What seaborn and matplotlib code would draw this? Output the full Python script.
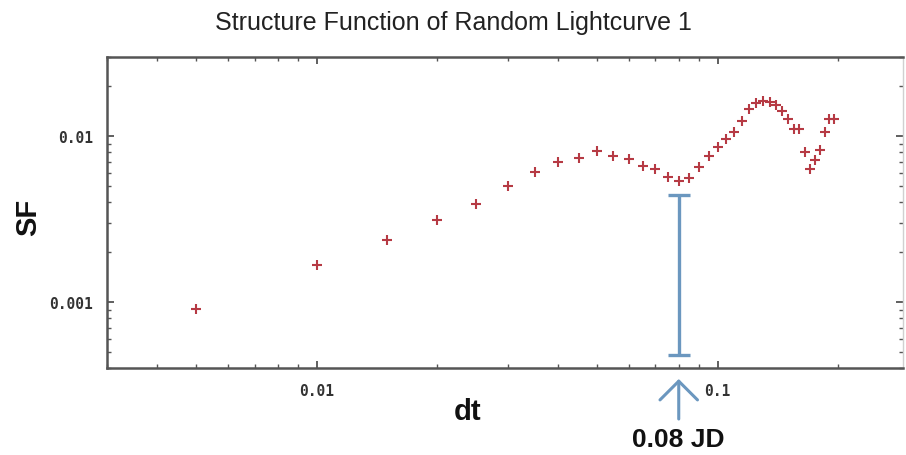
import matplotlib
matplotlib.use("Agg")
import matplotlib.pyplot as plt
import seaborn as sns
import pandas as pd

# ---- data ----
dt = [0.005, 0.010, 0.015, 0.020, 0.025, 0.030, 0.035, 0.040, 0.045, 0.050,
      0.055, 0.060, 0.065, 0.070, 0.075, 0.080, 0.085, 0.090, 0.095, 0.100,
      0.105, 0.110, 0.115, 0.120, 0.125, 0.130, 0.135, 0.140, 0.145, 0.150,
      0.155, 0.160, 0.165, 0.170, 0.175, 0.180, 0.185, 0.190, 0.195]
sf = [0.00091, 0.00167, 0.00238, 0.0031, 0.0039, 0.0050, 0.0061, 0.0070, 0.0074, 0.0081,
      0.0076, 0.0073, 0.0066, 0.0063, 0.0057, 0.0054, 0.0056, 0.0065, 0.0076, 0.0086,
      0.0096, 0.0106, 0.0124, 0.0146, 0.0159, 0.0162, 0.0160, 0.0155, 0.0141, 0.0126,
      0.0110, 0.0110, 0.0080, 0.0063, 0.0072, 0.0083, 0.0106, 0.0127, 0.0127]

bar_x = [0.08]
bar_low = [0.00048]
bar_high = [0.00439]

x_ticks = [0.01, 0.1]
x_tick_labels = ["0.01", "0.1"]
y_ticks = [0.001, 0.01]
y_tick_labels = ["0.001", "0.01"]

title = "Structure Function of Random Lightcurve 1"
x_label = "dt"
y_label = "SF"
note = "0.08 JD"

df = pd.DataFrame({"dt": dt, "SF": sf})

sns.set_theme(style="ticks")
plt.rcParams["font.family"] = ["Liberation Sans", "DejaVu Sans"]

fig = plt.figure(figsize=(9.06, 4.56), dpi=100)
fig.patch.set_facecolor("white")
ax = fig.add_axes([107 / 906, 1 - 369 / 456, 796 / 906, 311 / 456])
ax.set_facecolor("white")

sns.scatterplot(data=df, x="dt", y="SF", marker="+", s=55, color="#b63a44",
                linewidth=1.5, ax=ax, legend=False, zorder=3)

ax.set_xscale("log")
ax.set_yscale("log")
ax.set_xlim(0.003, 0.29)
ax.set_ylim(0.0004, 0.03)

# error bar marker
blue = "#6b97bf"
mid = [(lo * hi) ** 0.5 for lo, hi in zip(bar_low, bar_high)]
yerr = [[m - lo for m, lo in zip(mid, bar_low)], [hi - m for m, hi in zip(mid, bar_high)]]
ax.errorbar(bar_x, mid, yerr=yerr, fmt="none", ecolor=blue, elinewidth=2.4,
            capsize=8, capthick=2.4, zorder=2)

# ticks
ax.set_xticks(x_ticks)
ax.set_xticklabels(x_tick_labels)
ax.set_yticks(y_ticks)
ax.set_yticklabels(y_tick_labels)
tick_font = dict(family="DejaVu Sans Mono", weight="bold", size=10.5)
for lab in ax.get_xticklabels() + ax.get_yticklabels():
    lab.set_fontproperties(matplotlib.font_manager.FontProperties(**tick_font))
    lab.set_color("#333333")
ax.tick_params(which="major", direction="in", length=5, width=1.2, color="#444444",
               top=True, right=True, pad=10)
ax.tick_params(which="minor", direction="in", length=3, width=1.0, color="#555555",
               top=True, right=True)
ax.tick_params(axis="x", which="major", pad=11)

for side in ["left", "bottom", "top"]:
    ax.spines[side].set_color("#555555")
    ax.spines[side].set_linewidth(1.8)
ax.spines["right"].set_color("#d0d0d0")
ax.spines["right"].set_linewidth(1.0)

# axis labels
ax.set_xlabel(x_label, fontsize=21, fontweight="bold", color="#111111")
ax.set_ylabel(y_label, fontsize=21, fontweight="bold", color="#111111")
ax.xaxis.set_label_coords((468 - 107) / 796, (369 - 412) / 311)
ax.xaxis.label.set_va("center")
ax.yaxis.set_label_coords((28 - 107) / 796, (369 - 217) / 311)
ax.yaxis.label.set_va("center")

# title
fig.text(0.5, 1 - 23 / 456, title, ha="center", va="center", fontsize=18, color="#222222")

# arrow and note below the axis
ax.annotate("", xy=(bar_x[0], (369 - 380) / 311), xycoords=("data", "axes fraction"),
            xytext=(bar_x[0], (369 - 420) / 311), textcoords=("data", "axes fraction"),
            arrowprops=dict(arrowstyle="->,head_length=0.45,head_width=0.45", color=blue,
                            lw=2.2, mutation_scale=30, shrinkA=0, shrinkB=0),
            annotation_clip=False)
ax.text(bar_x[0], (369 - 440) / 311, note, transform=ax.get_xaxis_transform(),
        ha="center", va="center", fontsize=19, fontweight="bold", color="#111111")

fig.savefig("out.png", dpi=100, facecolor="white")
